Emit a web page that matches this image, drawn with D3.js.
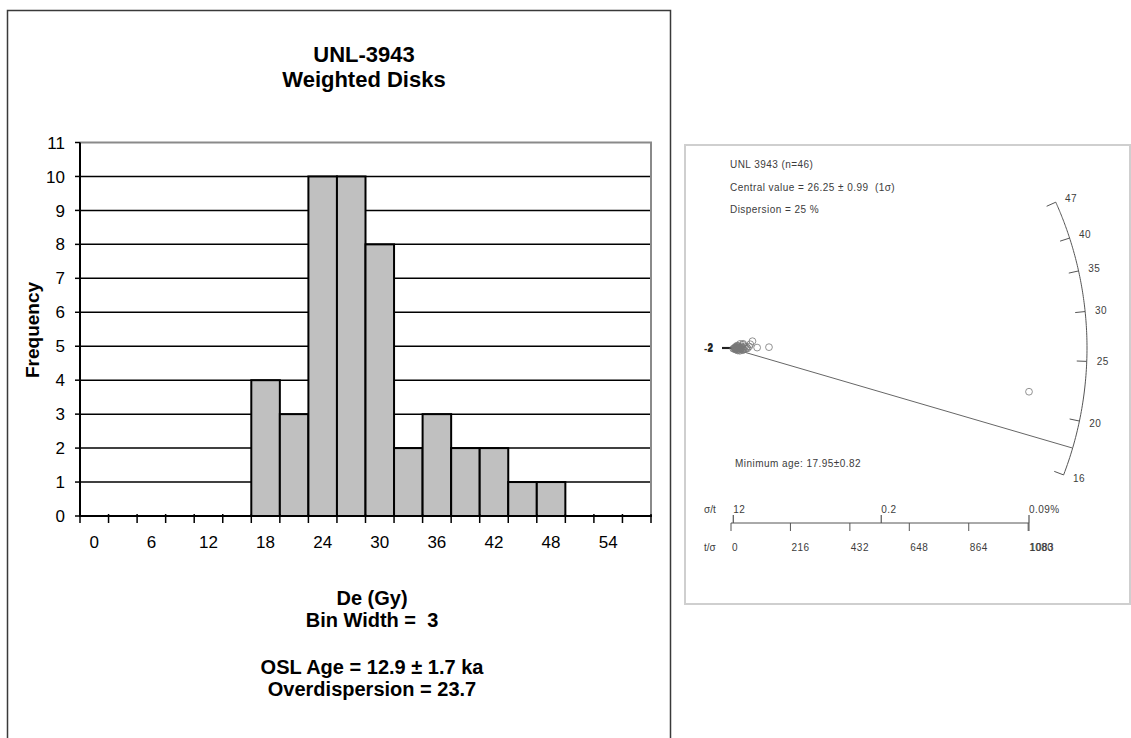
<!DOCTYPE html>
<html>
<head>
<meta charset="utf-8">
<script src="https://cdn.jsdelivr.net/npm/d3@7"></script>
<style>
	body { margin: 0; background: #fff; }
	svg { display: block; font-family: "Liberation Sans", Arial, sans-serif; }
</style>
</head>
<body>
<script>
// histogram (left panel)
var binStarts = [0, 3, 6, 9, 12, 15, 18, 21, 24, 27, 30, 33, 36, 39, 42, 45, 48, 51, 54, 57];
var binCounts = [0, 0, 0, 0, 0, 0, 4, 3, 10, 10, 8, 2, 3, 2, 2, 1, 1, 0, 0, 0];
var yTicks = [0, 1, 2, 3, 4, 5, 6, 7, 8, 9, 10, 11];
var titleLines = ["UNL-3943", "Weighted Disks"];
var footLines = ["De (Gy)", "Bin Width =  3", "OSL Age = 12.9 \u00b1 1.7 ka", "Overdispersion = 23.7"];

// radial plot (right panel)
var deValues = [16.2, 16.8, 17.4, 17.9, 18.6, 19.5, 20.4, 21.7, 21.4, 22.0,
	22.5, 22.9, 23.2, 23.5, 23.8, 24.0, 22.7, 24.3, 24.6, 25.0,
	25.3, 25.6, 25.9, 26.2, 26.5, 26.8, 27.0, 27.3, 27.7, 28.1,
	28.5, 28.9, 29.2, 29.6, 30.0, 31.2, 32.4, 33.8, 34.6, 35.5,
	37.1, 38.4, 39.6, 41.3, 43.7, 46.9];
var precValues = [24, 16, 32, 8.3, 20, 28, 41, 1083, 14, 46,
	26, 18, 36, 22, 30, 12, 43, 21, 54, 29,
	17, 60, 25, 34, 19, 95, 138, 40, 23, 57,
	15, 31, 66, 27, 50, 37, 20, 70, 28, 16,
	44, 24, 78, 44, 22, 33];
var centralValue = 26.25;
var minimumAge = 17.95;
var arcTicks = [16, 20, 25, 30, 35, 40, 47];
var tsTicks = [0, 216, 432, 648, 864, 1080];
var tsMax = 1083;
var stTicks = [8.3, 546, 1083];
var stLabels = ["12", "0.2", "0.09%"];
var radialNotes = ["UNL 3943 (n=46)", "Central value = 26.25 \u00b1 0.99  (1\u03c3)", "Dispersion = 25 %"];

var width = 1131, height = 738;

var svg = d3.select("body")
	.append("svg")
	.attr("width", width)
	.attr("height", height);

// ---------- left panel ----------
svg.append("path")
	.attr("d", "M7.5,745 V10.5 H670.5 V745")
	.attr("fill", "none")
	.attr("stroke", "#3a3a3a")
	.attr("stroke-width", 1.5);

var x = d3.scaleBand()
	.domain(binStarts)
	.range([80, 651])
	.padding(0);

var y = d3.scaleLinear()
	.domain([0, 11])
	.range([516, 142.5]);

// grid lines
svg.selectAll(".grid")
	.data(yTicks.filter(function(d) { return d > 0 && d < 11; }))
	.enter()
	.append("line")
	.attr("x1", 80)
	.attr("x2", 651)
	.attr("y1", function(d) { return y(d); })
	.attr("y2", function(d) { return y(d); })
	.attr("stroke", "#000")
	.attr("stroke-width", 1.5);

// plot area border (top / right, grey)
svg.append("path")
	.attr("d", "M80," + y(11) + " H651 V" + y(0))
	.attr("fill", "none")
	.attr("stroke", "#8a8a8a")
	.attr("stroke-width", 2);

svg.selectAll(".bar")
	.data(binStarts.map(function(d, i) { return {bin: d, n: binCounts[i]}; }).filter(function(d) { return d.n > 0; }))
	.enter()
	.append("rect")
	.attr("x", function(d) { return x(d.bin); })
	.attr("y", function(d) { return y(d.n); })
	.attr("width", x.bandwidth())
	.attr("height", function(d) { return y(0) - y(d.n); })
	.attr("fill", "#c0c0c0")
	.attr("stroke", "#000")
	.attr("stroke-width", 2);

// axes
svg.append("line")
	.attr("x1", 80).attr("x2", 80)
	.attr("y1", y(11)).attr("y2", y(0))
	.attr("stroke", "#000").attr("stroke-width", 2);
svg.append("line")
	.attr("x1", 79).attr("x2", 652)
	.attr("y1", y(0)).attr("y2", y(0))
	.attr("stroke", "#000").attr("stroke-width", 2);

svg.selectAll(".ytick")
	.data(yTicks)
	.enter()
	.append("line")
	.attr("x1", 75).attr("x2", 80)
	.attr("y1", function(d) { return y(d); })
	.attr("y2", function(d) { return y(d); })
	.attr("stroke", "#000").attr("stroke-width", 1.5);

svg.selectAll(".ylab")
	.data(yTicks)
	.enter()
	.append("text")
	.attr("x", 65)
	.attr("y", function(d) { return y(d); })
	.attr("dy", "0.36em")
	.attr("text-anchor", "end")
	.attr("font-size", 17)
	.attr("fill", "#000")
	.text(function(d) { return d; });

var edges = binStarts.map(function(d) { return x(d); }).concat([x.range()[1]]);
svg.selectAll(".xtick")
	.data(edges)
	.enter()
	.append("line")
	.attr("x1", function(d) { return d; })
	.attr("x2", function(d) { return d; })
	.attr("y1", y(0) - 2)
	.attr("y2", y(0) + 7)
	.attr("stroke", "#000").attr("stroke-width", 1.5);

svg.selectAll(".xlab")
	.data(binStarts.filter(function(d, i) { return i % 2 == 0; }))
	.enter()
	.append("text")
	.attr("x", function(d) { return x(d) + x.bandwidth() / 2; })
	.attr("y", 548)
	.attr("text-anchor", "middle")
	.attr("font-size", 17)
	.attr("fill", "#000")
	.text(function(d) { return d; });

svg.append("text")
	.attr("transform", "translate(39,330) rotate(-90)")
	.attr("text-anchor", "middle")
	.attr("font-size", 19)
	.attr("font-weight", "bold")
	.text("Frequency");

svg.selectAll(".title")
	.data(titleLines)
	.enter()
	.append("text")
	.attr("x", 364)
	.attr("y", function(d, i) { return 62 + i * 25; })
	.attr("text-anchor", "middle")
	.attr("font-size", 22)
	.attr("font-weight", "bold")
	.text(function(d) { return d; });

var footY = [605, 627, 674, 696];
svg.selectAll(".foot")
	.data(footLines)
	.enter()
	.append("text")
	.attr("x", 372)
	.attr("y", function(d, i) { return footY[i]; })
	.attr("text-anchor", "middle")
	.attr("font-size", 20)
	.attr("font-weight", "bold")
	.style("white-space", "pre")
	.text(function(d) { return d; });

// ---------- right panel: radial plot ----------
svg.append("rect")
	.attr("x", 685).attr("y", 145)
	.attr("width", 445).attr("height", 459)
	.attr("fill", "none")
	.attr("stroke", "#cfcfcf")
	.attr("stroke-width", 2);

var ink = "#3c3c3c";
var smallFont = 10, spacing = "0.45px";
var y0 = 348, R = 356;
var rx = d3.scaleLinear().domain([0, tsMax]).range([731, 1029]);
var ry = d3.scaleLinear().domain([-1000, 1000]).range([y0 + 212.1, y0 - 212.1]);
var x0 = rx(0);
var lz0 = Math.log(centralValue);

function arcAngle(v) {
	var s = Math.log(v) - lz0;
	return Math.atan2(ry(0) - ry(s), rx(1) - rx(0));
}
function arcPoint(v, r) {
	var a = arcAngle(v);
	return [x0 + r * Math.cos(a), y0 - r * Math.sin(a)];
}

svg.selectAll(".note")
	.data(radialNotes)
	.enter()
	.append("text")
	.attr("x", 730)
	.attr("y", function(d, i) { return 168 + i * 22.5; })
	.attr("font-size", smallFont)
	.attr("letter-spacing", spacing)
	.attr("fill", ink)
	.style("white-space", "pre")
	.text(function(d) { return d; });

// arc
var arcVals = d3.range(arcTicks[0], arcTicks[arcTicks.length - 1] + 0.01, 0.25);
svg.append("path")
	.attr("d", d3.line()(arcVals.map(function(v) { return arcPoint(v, R); })))
	.attr("fill", "none")
	.attr("stroke", "#555")
	.attr("stroke-width", 1);

svg.selectAll(".arctick")
	.data(arcTicks)
	.enter()
	.append("line")
	.attr("x1", function(d) { return arcPoint(d, R - 10)[0]; })
	.attr("y1", function(d) { return arcPoint(d, R - 10)[1]; })
	.attr("x2", function(d) { return arcPoint(d, R)[0]; })
	.attr("y2", function(d) { return arcPoint(d, R)[1]; })
	.attr("stroke", "#555")
	.attr("stroke-width", 1);

svg.selectAll(".arclab")
	.data(arcTicks)
	.enter()
	.append("text")
	.attr("x", function(d) { return arcPoint(d, R + 10)[0]; })
	.attr("y", function(d) { return arcPoint(d, R + 10)[1]; })
	.attr("dy", "0.35em")
	.attr("font-size", smallFont)
	.attr("letter-spacing", spacing)
	.attr("fill", ink)
	.text(function(d) { return d; });

// minimum age line
svg.append("line")
	.attr("x1", x0 + 6).attr("y1", y0 + 2)
	.attr("x2", arcPoint(minimumAge, R)[0])
	.attr("y2", arcPoint(minimumAge, R)[1])
	.attr("stroke", "#666")
	.attr("stroke-width", 1);

// +-2 bar (squashed by the scale)
[-2, 0, 2].forEach(function(z) {
	svg.append("line")
		.attr("x1", x0 - 9).attr("x2", x0 + 2)
		.attr("y1", ry(z)).attr("y2", ry(z))
		.attr("stroke", "#222")
		.attr("stroke-width", 1.3);
});
[-2, 2].forEach(function(z) {
	svg.append("text")
		.attr("x", 713)
		.attr("y", ry(z))
		.attr("dy", "0.35em")
		.attr("text-anchor", "end")
		.attr("font-size", smallFont)
		.attr("font-weight", "bold")
		.attr("fill", "#222")
		.text(z);
});

svg.selectAll(".pt")
	.data(deValues.map(function(d, i) { return {de: d, p: precValues[i]}; }))
	.enter()
	.append("circle")
	.attr("cx", function(d) { return rx(d.p); })
	.attr("cy", function(d) { return ry((Math.log(d.de) - lz0) * d.p); })
	.attr("r", 3.4)
	.attr("fill", "none")
	.attr("stroke", "#777")
	.attr("stroke-width", 0.8);

svg.append("text")
	.attr("x", 735)
	.attr("y", 467)
	.attr("font-size", smallFont)
	.attr("letter-spacing", spacing)
	.attr("fill", ink)
	.text("Minimum age: 17.95\u00b10.82");

// bottom axis: t/sigma and sigma/t
var axY = 523;
svg.append("line")
	.attr("x1", rx(0)).attr("x2", rx(tsMax))
	.attr("y1", axY).attr("y2", axY)
	.attr("stroke", "#555").attr("stroke-width", 1);

svg.selectAll(".tstick")
	.data(tsTicks.concat([tsMax]))
	.enter()
	.append("line")
	.attr("x1", function(d) { return rx(d); })
	.attr("x2", function(d) { return rx(d); })
	.attr("y1", axY).attr("y2", axY + 8)
	.attr("stroke", "#555").attr("stroke-width", 1);

svg.selectAll(".tslab")
	.data(tsTicks.concat([tsMax]))
	.enter()
	.append("text")
	.attr("x", function(d) { return rx(d) + 1; })
	.attr("y", 551)
	.attr("font-size", smallFont)
	.attr("letter-spacing", spacing)
	.attr("fill", ink)
	.text(function(d) { return d; });

svg.selectAll(".sttick")
	.data(stTicks)
	.enter()
	.append("line")
	.attr("x1", function(d) { return rx(d); })
	.attr("x2", function(d) { return rx(d); })
	.attr("y1", axY - 8).attr("y2", axY)
	.attr("stroke", "#555").attr("stroke-width", 1.2);

svg.selectAll(".stlab")
	.data(stTicks)
	.enter()
	.append("text")
	.attr("x", function(d) { return rx(d); })
	.attr("y", 513)
	.attr("font-size", smallFont)
	.attr("letter-spacing", spacing)
	.attr("fill", ink)
	.text(function(d, i) { return stLabels[i]; });

svg.append("text")
	.attr("x", 704).attr("y", 513)
	.attr("font-size", smallFont).attr("fill", ink)
	.text("\u03c3/t");
svg.append("text")
	.attr("x", 704).attr("y", 551)
	.attr("font-size", smallFont).attr("fill", ink)
	.text("t/\u03c3");
</script>
</body>
</html>
